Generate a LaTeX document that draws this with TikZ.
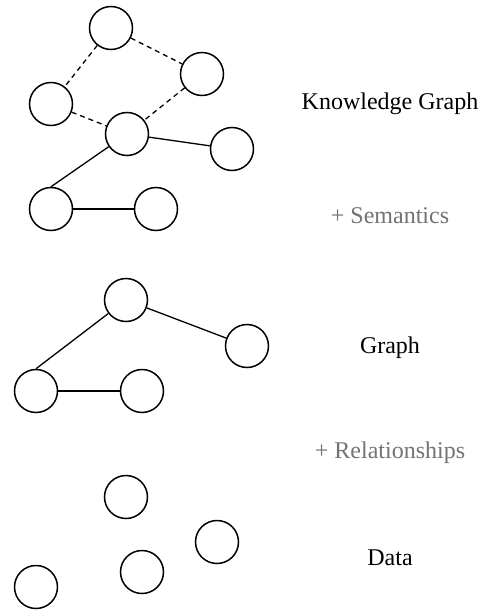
\documentclass[tikz,border=0pt]{standalone}
\usepackage{fontspec}
\setmainfont{Liberation Serif}
\usepackage{xcolor}
\usetikzlibrary{positioning}

\begin{document}
\begin{tikzpicture}[x=1pt, y=-1pt,
    ent/.style={draw, circle, line width=1.5pt, minimum size=43pt, inner sep=0pt},
    rel/.style={line width=1.3pt},
    sem/.style={rel, dash pattern=on 5pt off 4pt},
    lab/.style={font=\fontsize{24}{28}\selectfont},
    step lab/.style={lab, text=black!55}]
  \useasboundingbox (0,0) rectangle (481,610);
  % knowledge graph
  \node[ent] (k1) at (111,28) {};
  \node[ent] (k2) at (202,74) {};
  \node[ent] (k3) at (51,104) {};
  \node[ent] (k4) at (127,134) {};
  \node[ent] (k5) at (232,149) {};
  \node[ent] (k6) at (51,209) {};
  \node[ent] (k7) at (156,209) {};
  \draw[sem] (k1) -- (k3);
  \draw[sem] (k1) -- (k2);
  \draw[sem] (k2) -- (k4);
  \draw[sem] (k3) -- (k4);
  \draw[rel] (k4) -- (k5);
  \draw[rel] (k4) -- (k6.north);
  \draw[rel] (k6) -- (k7);
  % graph
  \node[ent] (g1) at (126,300) {};
  \node[ent] (g2) at (247,346) {};
  \node[ent] (g3) at (36,391) {};
  \node[ent] (g4) at (142,391) {};
  \draw[rel] (g1) -- (g2);
  \draw[rel] (g1) -- (g3.north);
  \draw[rel] (g3) -- (g4);
  % data
  \node[ent] (d1) at (126,497) {};
  \node[ent] (d2) at (217,542) {};
  \node[ent] (d3) at (142,572) {};
  \node[ent] (d4) at (36,587) {};
  % labels
  \node[lab] (lkg) at (390,104) {Knowledge Graph};
  \node[step lab] (lsem) at (390,216) {+ Semantics};
  \node[lab] (lgraph) at (390,348) {Graph};
  \node[step lab] (lrel) at (390,453) {+ Relationships};
  \node[lab] (ldata) at (390,558) {Data};
\end{tikzpicture}
\end{document}
